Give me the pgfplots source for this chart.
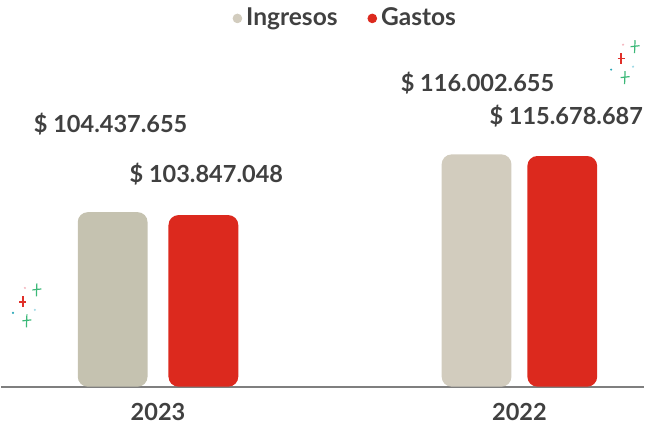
\documentclass[border=0pt]{standalone}
\usepackage{pgfplots}
\pgfplotsset{compat=1.18}
\usepackage{fontspec}
\setmainfont{Lato}
\definecolor{ingA}{HTML}{C5C2B0}
\definecolor{ingB}{HTML}{D2CCBE}
\definecolor{gas}{HTML}{DC291E}
\definecolor{txt}{HTML}{404040}
\definecolor{axg}{HTML}{7F7F7F}
\definecolor{spg}{HTML}{3CB878}
\definecolor{spr}{HTML}{E0302A}
\definecolor{spp}{HTML}{F4B8C0}
\definecolor{spc}{HTML}{2AA8B8}
\definecolor{spl}{HTML}{9ED8E4}
\newcommand\lab{\bfseries\fontsize{11.8pt}{14pt}\selectfont}
\newcommand\leg{\bfseries\fontsize{12.3pt}{14pt}\selectfont}
\begin{document}
\begin{tikzpicture}
\begin{axis}[
  scale only axis, width=322.5pt, height=194pt,
  xmin=-0.4345, xmax=1.3448, ymin=69.5, ymax=146.94,
  axis y line=none, axis x line*=bottom,
  x axis line style={draw=axg, line width=1pt, -},
  xtick={0,1}, xticklabels={2023,2022}, major tick length=0pt,
  xticklabel style={anchor=base, yshift=-17pt, inner sep=0pt, font=\lab, text=txt},
  legend style={at={(0.537,0.952)}, anchor=center, draw=none, fill=none,
    legend columns=-1, font=\leg, text=txt,
    /tikz/every even column/.append style={column sep=13pt}},
  nodes near coords, point meta=explicit symbolic,
  every node near coord/.append style={font=\lab, text=txt, inner sep=0pt},
]
\addlegendimage{legend image code/.code={\fill[ingB] (0pt,0pt) circle (2.2pt);}}
\addlegendentry{Ingresos}
\addlegendimage{legend image code/.code={\fill[gas] (0pt,0pt) circle (2.2pt);}}
\addlegendentry{Gastos}
\addplot[forget plot, ybar, bar width=35pt, bar shift=-22.75pt, fill=ingA, draw=none, rounded corners=5pt,
  nodes near coords style={anchor=base, yshift=40pt, xshift=-23.75pt}]
  coordinates {(0,104.437655) [\$ 104.437.655]};
\addplot[forget plot, ybar, bar width=35pt, bar shift=22.75pt, fill=gas, draw=none, rounded corners=5pt,
  nodes near coords style={anchor=base, yshift=16.5pt, xshift=24.25pt}]
  coordinates {(0,103.847048) [\$ 103.847.048]};
\addplot[forget plot, ybar, bar width=35pt, bar shift=-21.5pt, fill=ingB, draw=none, rounded corners=5pt,
  nodes near coords style={anchor=base, yshift=31.5pt, xshift=-21pt}]
  coordinates {(1,116.002655) [\$ 116.002.655]};
\addplot[forget plot, ybar, bar width=35pt, bar shift=21.5pt, fill=gas, draw=none, rounded corners=5pt,
  nodes near coords style={anchor=base, yshift=16pt, xshift=23.5pt}]
  coordinates {(1,115.678687) [\$ 115.678.687]};
\end{axis}
\path (current axis.south west) ++(0,-20.5pt);
\begin{scope}[x=0.5pt, y=-0.5pt, shift={(0,194pt)}]
  \foreach \ox/\oy in {0/0, 600/-244} {
    \begin{scope}[shift={(\ox,\oy)}]
      \fill[spp] (24,289) circle (1.2);
      \draw[spr, line width=0.6pt] (18.5,303) -- (25.5,303) (22,297.5) -- (22,308.5);
      \draw[spg, line width=0.6pt] (31.5,291) -- (40.5,290) (36,284.5) -- (35.5,297.5);
      \fill[spc] (12,314) circle (1.2);
      \fill[spl] (34,311) circle (1.2);
      \draw[spg, line width=0.6pt] (21.5,322) -- (30.5,321) (26,315.5) -- (25.5,328.5);
    \end{scope}
  }
\end{scope}
\end{tikzpicture}
\end{document}
